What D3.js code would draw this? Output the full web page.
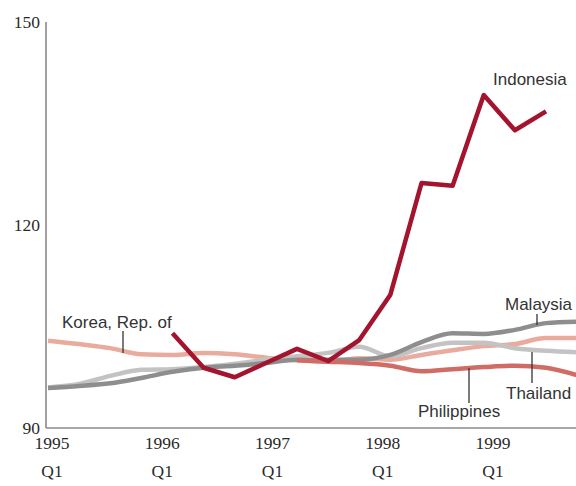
<!DOCTYPE html>
<html>
<head>
<meta charset="utf-8">
<script src="https://cdn.jsdelivr.net/npm/d3@7/dist/d3.min.js"></script>
<style>
  html, body { margin: 0; padding: 0; background: #fff; }
  svg { display: block; }
</style>
</head>
<body>
<svg id="chart" width="576" height="486"></svg>
<script>
// Quarterly index values, 1995 Q1 onwards (index 0 = 1995 Q1)
const quarters = d3.range(0, 18);
const yearLabels = ["1995", "1996", "1997", "1998", "1999"];
const yTicks = [90, 120, 150];

const korea = [102.9, 102.4, 101.8, 100.9, 100.8, 101.1, 100.9, 100.4, 100.0, 99.8, 100.3, 100.1, 100.8, 101.5, 102.1, 102.4, 103.3, 103.3];
const malaysia = [95.9, 96.2, 96.6, 97.4, 98.3, 98.9, 99.2, 99.6, 100.1, 100.1, 100.1, 100.8, 102.7, 104.0, 103.9, 104.5, 105.5, 105.7];
const thailand = [96.0, 96.5, 97.7, 98.6, 98.7, 99.0, 99.5, 100.1, 100.6, 101.1, 102.0, 100.6, 101.8, 102.6, 102.6, 101.8, 101.4, 101.2];
// Philippines series begins at 1997 Q1
const philippinesStart = 8;
const philippines = [100.0, 99.8, 99.6, 99.2, 98.4, 98.7, 99.0, 99.2, 98.9, 97.8];
// Indonesia series begins at 1996 Q1
const indonesiaStart = 4;
const indonesia = [104.0, 98.9, 97.5, 99.6, 101.7, 99.9, 103.0, 109.7, 126.2, 125.8, 139.2, 134.0, 136.8];

const svg = d3.select("#chart");

const x = d3.scaleLinear().domain([0, 16]).range([48, 546]);
const y = d3.scaleLinear().domain([90, 150]).range([428, 22]);
const xLabel = d3.scalePoint().domain(yearLabels).range([52, 493]);

const serif = "'Liberation Serif', 'DejaVu Serif', serif";
const sans = "'Liberation Sans', Arial, sans-serif";

// Axes
svg.append("line")
  .attr("x1", x.range()[0] - 2).attr("x2", x.range()[0] - 2)
  .attr("y1", y(150)).attr("y2", y(90))
  .attr("stroke", "#8a8a8a").attr("stroke-width", 1.6);
svg.append("line")
  .attr("x1", x.range()[0] - 2).attr("x2", 576)
  .attr("y1", y(90)).attr("y2", y(90))
  .attr("stroke", "#8a8a8a").attr("stroke-width", 1.6);

svg.append("g").selectAll("text").data(yTicks).join("text")
  .attr("x", 40).attr("y", d => y(d))
  .attr("dy", "0.32em")
  .attr("text-anchor", "end")
  .attr("font-family", serif).attr("font-size", 17.5)
  .attr("fill", "#2a2a2a")
  .text(d => d);

const xt = svg.append("g").selectAll("g").data(yearLabels).join("g")
  .attr("transform", d => `translate(${xLabel(d)},0)`);
xt.append("text").attr("y", 449).attr("text-anchor", "middle")
  .attr("font-family", serif).attr("font-size", 17.5).attr("fill", "#2a2a2a")
  .text(d => d);
xt.append("text").attr("y", 477).attr("text-anchor", "middle")
  .attr("font-family", serif).attr("font-size", 17.5).attr("fill", "#2a2a2a")
  .text("Q1");

// Series lines
const smooth = d3.line().x(d => x(d.q)).y(d => y(d.v)).curve(d3.curveMonotoneX);
const straight = d3.line().x(d => x(d.q)).y(d => y(d.v));

function pts(values, start) {
  return values.map((v, i) => ({ q: quarters[start + i], v }));
}

const series = [
  { name: "Korea", values: korea, start: 0, color: "#e8ab9e", gen: smooth },
  { name: "Thailand", values: thailand, start: 0, color: "#c3c3c3", gen: smooth },
  { name: "Malaysia", values: malaysia, start: 0, color: "#8e8e8e", gen: smooth },
  { name: "Philippines", values: philippines, start: philippinesStart, color: "#d06c66", gen: smooth },
  { name: "Indonesia", values: indonesia, start: indonesiaStart, color: "#a3142f", gen: straight }
];

svg.append("g").selectAll("path").data(series).join("path")
  .attr("d", s => s.gen(pts(s.values, s.start)))
  .attr("fill", "none")
  .attr("stroke", s => s.color)
  .attr("stroke-width", 4.5)
  .attr("stroke-linejoin", "round")
  .attr("stroke-linecap", "butt");

// Series labels with leader lines
const labels = [
  { text: "Indonesia", x: 493, y: 85, leader: null },
  { text: "Korea, Rep. of", x: 62, y: 328, leader: [123, 331, 353] },
  { text: "Malaysia", x: 505, y: 310, leader: [537, 314, 325] },
  { text: "Thailand", x: 506, y: 399, leader: [532, 352, 383] },
  { text: "Philippines", x: 418, y: 417, leader: [469, 368, 403] }
];

const lg = svg.append("g");
lg.selectAll("line").data(labels.filter(d => d.leader)).join("line")
  .attr("x1", d => d.leader[0]).attr("x2", d => d.leader[0])
  .attr("y1", d => d.leader[1]).attr("y2", d => d.leader[2])
  .attr("stroke", "#333").attr("stroke-width", 1.3);
lg.selectAll("text").data(labels).join("text")
  .attr("x", d => d.x).attr("y", d => d.y)
  .attr("font-family", sans).attr("font-size", 17)
  .attr("fill", "#333")
  .text(d => d.text);
</script>
</body>
</html>
